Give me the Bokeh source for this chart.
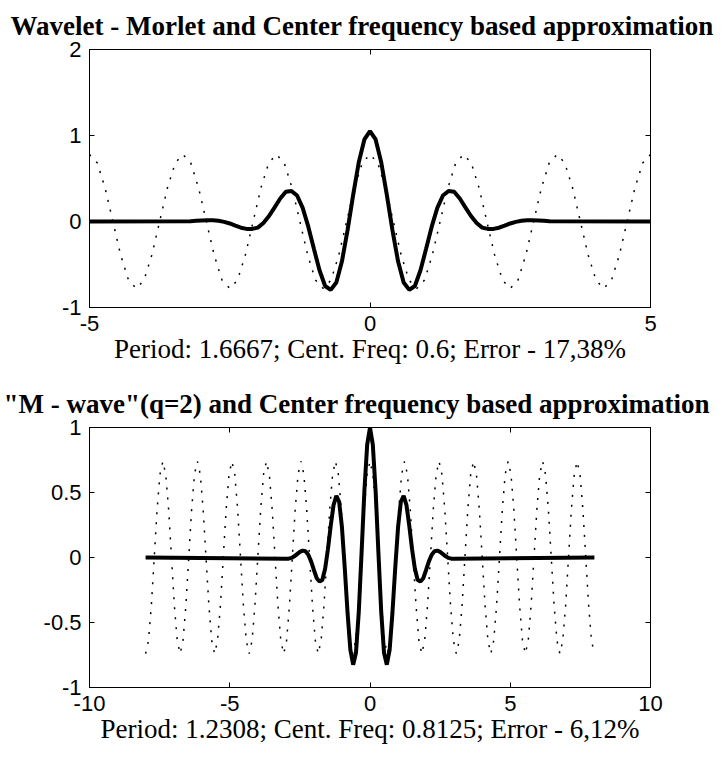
import numpy as np
from bokeh.plotting import figure
from bokeh.layouts import column
from bokeh.models import FixedTicker, Range1d, LinearAxis
from bokeh.embed import file_html
from bokeh.resources import INLINE

# ---------------- data ----------------
# Top panel: wavelet (Morlet) - thick line
top_wave_x = [-5.0, -3.2, -3.1, -3.0, -2.9, -2.8, -2.7, -2.6, -2.5, -2.4, -2.3, -2.2, -2.1, -2.0,
              -1.9, -1.8, -1.7, -1.6, -1.5, -1.4, -1.3, -1.2, -1.1, -1.0, -0.9, -0.8, -0.7,
              -0.6, -0.5, -0.4, -0.3, -0.2, -0.1, 0.0, 0.1, 0.2, 0.3, 0.4, 0.5, 0.6, 0.7, 0.8,
              0.9, 1.0, 1.1, 1.2, 1.3, 1.4, 1.5, 1.6, 1.7, 1.8, 1.9, 2.0, 2.1, 2.2, 2.3, 2.4,
              2.5, 2.6, 2.7, 2.8, 2.9, 3.0, 3.1, 3.2, 5.0]
top_wave_y = [0.0, 0.004, 0.008, 0.012, 0.014, 0.014, 0.008, -0.004, -0.023, -0.048, -0.072,
              -0.086, -0.086, -0.071, -0.018, 0.064, 0.165, 0.267, 0.345, 0.355, 0.302, 0.158,
              -0.060, -0.318, -0.567, -0.750, -0.795, -0.709, -0.463, -0.101, 0.310, 0.689,
              0.954, 1.05, 0.954, 0.689, 0.310, -0.101, -0.463, -0.709, -0.795, -0.750,
              -0.567, -0.318, -0.060, 0.158, 0.302, 0.355, 0.345, 0.267, 0.165, 0.064,
              -0.018, -0.071, -0.086, -0.086, -0.072, -0.048, -0.023, -0.004, 0.008, 0.014,
              0.014, 0.012, 0.008, 0.004, 0.0]

# Top panel: centre-frequency approximation (period 1.6667) - dotted line
top_approx_y = [
    0.78, 0.68, 0.39, 0.0, -0.39, -0.68, -0.78, -0.68, -0.39, 0.0, 0.39, 0.68,
    0.78, 0.68, 0.39, 0.0, -0.39, -0.68, -0.78, -0.68, -0.39, 0.0, 0.39, 0.68,
    0.78, 0.68, 0.39, 0.0, -0.39, -0.68, -0.78, -0.68, -0.39, 0.0, 0.39, 0.68,
    0.78, 0.68, 0.39, 0.0, -0.39, -0.68, -0.78, -0.68, -0.39, 0.0, 0.39, 0.68,
    0.78, 0.68, 0.39, 0.0, -0.39, -0.68, -0.78, -0.68, -0.39, 0.0, 0.39, 0.68,
    0.78, 0.68, 0.39, 0.0, -0.39, -0.68, -0.78, -0.68, -0.39, 0.0, 0.39, 0.68,
    0.78]
top_approx_x = np.linspace(-5.0, 5.0, len(top_approx_y))

# Bottom panel: "M - wave" (q=2) - thick line
bot_wave_x = [-8.0, -3.0, -2.9, -2.8, -2.7, -2.6, -2.5, -2.4, -2.3, -2.2, -2.1, -2.0, -1.9,
              -1.8, -1.7, -1.6, -1.5, -1.4, -1.3, -1.2, -1.1, -1.0, -0.9, -0.8, -0.7, -0.6,
              -0.5, -0.4, -0.3, -0.2, -0.1, 0.0, 0.1, 0.2, 0.3, 0.4, 0.5, 0.6, 0.7, 0.8, 0.9,
              1.0, 1.1, 1.2, 1.3, 1.4, 1.5, 1.6, 1.7, 1.8, 1.9, 2.0, 2.1, 2.2, 2.3, 2.4, 2.5,
              2.6, 2.7, 2.8, 2.9, 3.0, 8.0]
bot_wave_y = [0.0, -0.010, -0.009, -0.003, 0.009, 0.026, 0.043, 0.053, 0.048, 0.021, -0.030,
              -0.096, -0.159, -0.185, -0.173, -0.086, 0.064, 0.244, 0.403, 0.475, 0.429,
              0.232, -0.079, -0.425, -0.711, -0.825, -0.733, -0.418, 0.038, 0.513, 0.868,
              1.0, 0.868, 0.513, 0.038, -0.418, -0.733, -0.825, -0.711, -0.425, -0.079,
              0.232, 0.429, 0.475, 0.403, 0.244, 0.064, -0.086, -0.173, -0.185, -0.159,
              -0.096, -0.030, 0.021, 0.048, 0.053, 0.043, 0.026, 0.009, -0.003, -0.009,
              -0.010, 0.0]

# Bottom panel: centre-frequency approximation (period 1.2308) - dotted line
bot_approx_y = [
    -0.74, -0.64, -0.37, 0.0, 0.37, 0.64, 0.74, 0.64, 0.37, 0.0, -0.37, -0.64,
    -0.74, -0.64, -0.37, 0.0, 0.37, 0.64, 0.74, 0.64, 0.37, 0.0, -0.37, -0.64,
    -0.74, -0.64, -0.37, 0.0, 0.37, 0.64, 0.74, 0.64, 0.37, 0.0, -0.37, -0.64,
    -0.74, -0.64, -0.37, 0.0, 0.37, 0.64, 0.74, 0.64, 0.37, 0.0, -0.37, -0.64,
    -0.74, -0.64, -0.37, 0.0, 0.37, 0.64, 0.74, 0.64, 0.37, 0.0, -0.37, -0.64,
    -0.74, -0.64, -0.37, 0.0, 0.37, 0.64, 0.74, 0.64, 0.37, 0.0, -0.37, -0.64,
    -0.74, -0.64, -0.37, 0.0, 0.37, 0.64, 0.74, 0.64, 0.37, 0.0, -0.37, -0.64,
    -0.74, -0.64, -0.37, 0.0, 0.37, 0.64, 0.74, 0.64, 0.37, 0.0, -0.37, -0.64,
    -0.74, -0.64, -0.37, 0.0, 0.37, 0.64, 0.74, 0.64, 0.37, 0.0, -0.37, -0.64,
    -0.74, -0.64, -0.37, 0.0, 0.37, 0.64, 0.74, 0.64, 0.37, 0.0, -0.37, -0.64,
    -0.74, -0.64, -0.37, 0.0, 0.37, 0.64, 0.74, 0.64, 0.37, 0.0, -0.37, -0.64,
    -0.74, -0.64, -0.37, 0.0, 0.37, 0.64, 0.74, 0.64, 0.37, 0.0, -0.37, -0.64,
    -0.74, -0.64, -0.37, 0.0, 0.37, 0.64, 0.74, 0.64, 0.37, 0.0, -0.37, -0.64,
    -0.74]
bot_approx_x = np.linspace(-8.0, 8.0, len(bot_approx_y))

# ticks and texts
top_xticks = [-5, 0, 5]
top_xlabels = ["-5", "0", "5"]
top_yticks = [-1, 0, 1, 2]
top_ylabels = ["-1", "0", "1", "2"]
bot_xticks = [-10, -5, 0, 5, 10]
bot_xlabels = ["-10", "-5", "0", "5", "10"]
bot_yticks = [-1, -0.5, 0, 0.5, 1]
bot_ylabels = ["-1", "-0.5", "0", "0.5", "1"]

top_title = "Wavelet - Morlet and Center frequency based approximation"
top_caption = "Period: 1.6667; Cent. Freq: 0.6; Error - 17,38%"
bot_title = "\"M - wave\"(q=2) and Center frequency based approximation"
bot_caption = "Period: 1.2308; Cent. Freq: 0.8125; Error - 6,12%"

# ---------------- styling helpers ----------------
TICK_FONT = "Liberation Sans"
SERIF = "Liberation Serif"


def style_axis(ax, ticks, labels, show_labels=True):
    ax.ticker = FixedTicker(ticks=ticks)
    ax.minor_tick_line_color = None
    ax.major_tick_in = 5
    ax.major_tick_out = 0
    ax.major_tick_line_color = "black"
    ax.axis_line_color = "black"
    ax.major_label_text_font = TICK_FONT
    if show_labels:
        ax.major_label_overrides = {t: l for t, l in zip(ticks, labels)}
        ax.major_label_text_color = "black"
        ax.major_label_text_font_size = "22px"
    else:
        # tick marks only: labels are not drawn at all
        ax.major_label_text_color = None
        ax.major_label_text_font_size = "1px"
        ax.major_label_standoff = 0


def make_panel(h, btop, bbot, xr, yr, xt, xl, yt, yl, title, caption, title_off):
    p = figure(width=721, height=h, output_backend="svg", toolbar_location=None,
               x_range=Range1d(*xr), y_range=Range1d(*yr),
               min_border_left=89, min_border_right=71,
               min_border_top=btop, min_border_bottom=bbot)
    p.background_fill_color = "white"
    p.border_fill_color = "white"
    p.outline_line_color = "black"
    p.grid.visible = False

    p.title.text = title
    p.title.align = "left"
    p.title.offset = title_off
    p.title.vertical_align = "top"
    p.title.text_font = SERIF
    p.title.text_font_style = "bold"
    p.title.text_font_size = "27px"
    p.title.text_color = "black"
    p.title.standoff = 14

    style_axis(p.xaxis[0], xt, xl)
    style_axis(p.yaxis[0], yt, yl)
    p.xaxis.major_label_standoff = 8
    p.yaxis.major_label_standoff = 8
    p.xaxis.axis_label = caption
    p.xaxis.axis_label_text_font = SERIF
    p.xaxis.axis_label_text_font_style = "normal"
    p.xaxis.axis_label_text_font_size = "27px"
    p.xaxis.axis_label_text_color = "black"
    p.xaxis.axis_label_standoff = 0

    # inward ticks on the top and right edges of the box
    top_ax = LinearAxis()
    style_axis(top_ax, xt, xl, show_labels=False)
    p.add_layout(top_ax, "above")
    right_ax = LinearAxis()
    style_axis(right_ax, yt, yl, show_labels=False)
    p.add_layout(right_ax, "right")
    return p


p1 = make_panel(380, 49, 73, (-5, 5), (-1, 2), top_xticks, top_xlabels,
                top_yticks, top_ylabels, top_title, top_caption, -79)
p1.line(top_approx_x, top_approx_y, line_color="black", line_width=1.5, line_dash="2 8")
p1.line(top_wave_x, top_wave_y, line_color="black", line_width=4)

p2 = make_panel(378, 47, 71, (-10, 10), (-1, 1), bot_xticks, bot_xlabels,
                bot_yticks, bot_ylabels, bot_title, bot_caption, -86)
p2.line(bot_approx_x, bot_approx_y, line_color="black", line_width=1.5, line_dash="2 8")
p2.line(bot_wave_x, bot_wave_y, line_color="black", line_width=4)

layout = column(p1, p2, spacing=0)

with open("out.html", "w") as f:
    f.write(file_html(layout, INLINE))
